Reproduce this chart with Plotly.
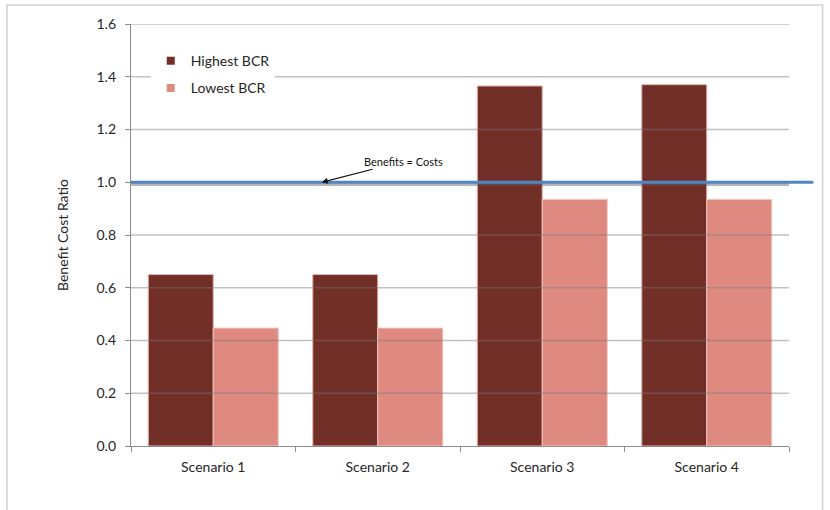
import plotly.graph_objects as go

# Benefit cost ratios per scenario
scenarios = ["Scenario 1", "Scenario 2", "Scenario 3", "Scenario 4"]
highest_bcr = [0.65, 0.65, 1.365, 1.37]
lowest_bcr = [0.447, 0.447, 0.935, 0.935]
tick_values = [0.0, 0.2, 0.4, 0.6, 0.8, 1.0, 1.2, 1.4, 1.6]
break_even = 1.0

FONT = "Lato, 'Open Sans', sans-serif"
DARK = "#722F28"
LIGHT = "#DE8A80"
TEXT = "#262626"

fig = go.Figure()
fig.add_trace(go.Bar(x=scenarios, y=highest_bcr, name="Highest BCR",
                     marker=dict(color=DARK, line=dict(color="#E9B5AE", width=1)),
                     showlegend=False))
fig.add_trace(go.Bar(x=scenarios, y=lowest_bcr, name="Lowest BCR",
                     marker=dict(color=LIGHT, line=dict(color="#F2C3BC", width=1)),
                     showlegend=False))

# small square legend swatches
fig.add_trace(go.Scatter(x=[None], y=[None], mode="markers", name="Highest BCR",
                         legendgroup="hi",
                         marker=dict(symbol="square", size=8, color=DARK)))
fig.add_trace(go.Scatter(x=[None], y=[None], mode="markers", name="Lowest BCR",
                         legendgroup="lo",
                         marker=dict(symbol="square", size=8, color=LIGHT)))

shapes = []
# gridlines drawn over the bars
for v in tick_values[1:]:
    shapes.append(dict(type="line", xref="paper", yref="y", x0=0, x1=1, y0=v, y1=v,
                       line=dict(color="rgba(120,120,120,0.45)", width=1.3), layer="above"))
# break-even line with soft shadow
shapes.append(dict(type="line", xref="paper", yref="y", x0=0, x1=1.0, y0=break_even - 0.009,
                   y1=break_even - 0.009, line=dict(color="rgba(90,90,90,0.45)", width=3),
                   layer="above"))
shapes.append(dict(type="line", xref="paper", yref="y", x0=0, x1=1.037, y0=break_even,
                   y1=break_even, line=dict(color="#4F86C6", width=3), layer="above"))
# outer frame
shapes.append(dict(type="rect", xref="paper", yref="paper", x0=-0.1885, x1=1.051,
                   y0=-0.2, y1=1.045, line=dict(color="#CFCFCF", width=1.5), layer="below"))

fig.update_layout(
    width=830, height=510,
    margin=dict(l=131, r=41, t=24, b=64),
    paper_bgcolor="white", plot_bgcolor="white",
    font=dict(family=FONT, size=14, color=TEXT),
    barmode="group", bargap=0.21, bargroupgap=0,
    shapes=shapes,
    legend=dict(x=0.03, y=0.95, xanchor="left", yanchor="top",
                bgcolor="white", font=dict(size=14, color=TEXT),
                itemwidth=30, tracegroupgap=6),
    annotations=[dict(x=0.29, y=break_even, xref="paper", yref="y",
                      text="Benefits = Costs", showarrow=True, arrowhead=2,
                      arrowsize=1, arrowwidth=1.2, arrowcolor="#111",
                      ax=82, ay=-21, font=dict(size=11, color="#111"))],
    xaxis=dict(showgrid=False, showline=True, linecolor="#8C8C8C", linewidth=1.3,
               ticks="outside", tickson="boundaries", ticklen=5, tickcolor="#8C8C8C",
               tickfont=dict(size=14, color=TEXT), ticklabelstandoff=8,
               layer="above traces"),
    yaxis=dict(range=[0, 1.6], tickvals=tick_values, tickformat=".1f", showgrid=False,
               showline=True, linecolor="#8C8C8C", linewidth=1.3, zeroline=False,
               ticks="outside", ticklen=5, tickcolor="#8C8C8C",
               tickfont=dict(size=14, color=TEXT), ticklabelstandoff=6,
               title=dict(text="Benefit Cost Ratio", font=dict(size=14, color=TEXT),
                          standoff=24)),
)

fig.write_html("out.html")
